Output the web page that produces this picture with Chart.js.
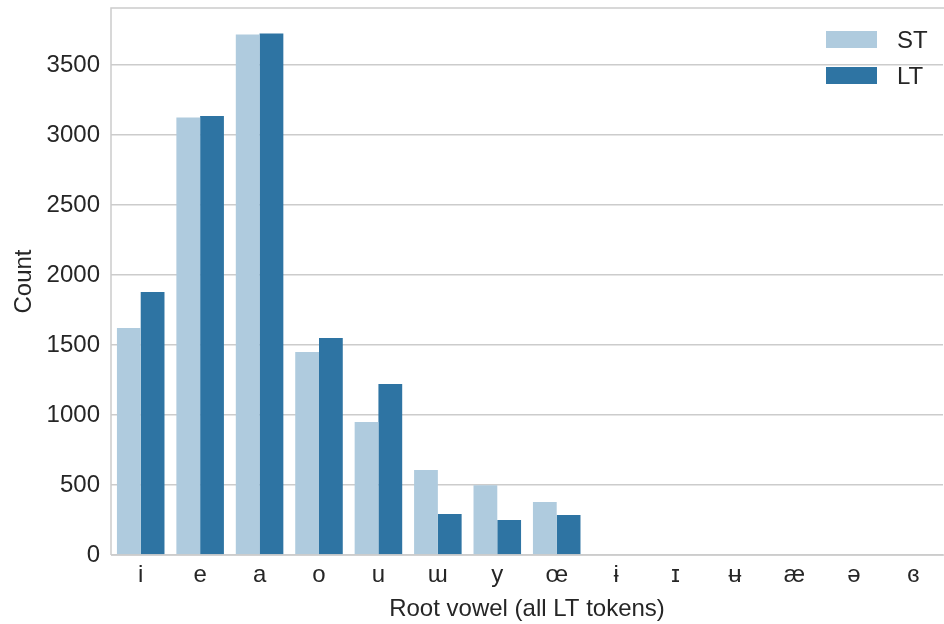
<!DOCTYPE html>
<html>
<head>
<meta charset="utf-8">
<script src="https://cdn.jsdelivr.net/npm/chart.js@4"></script>
<style>
html,body{margin:0;padding:0;background:#fff;}
#wrap{width:944px;height:624px;}
</style>
</head>
<body>
<div id="wrap"><canvas id="c" width="944" height="624"></canvas></div>
<script>
const categories = ["i","e","a","o","u","ɯ","y","œ","ɨ","ɪ","ʉ","æ","ə","ɞ"];
const stValues = [1621,3124,3717,1450,950,607,498,379,0,0,0,0,0,0];
const ltValues = [1879,3136,3724,1550,1221,293,250,286,0,0,0,0,0,0];
const yTicks = [0,500,1000,1500,2000,2500,3000,3500];
const seriesNames = ["ST","LT"];

const FONT = "'Liberation Sans', Arial, sans-serif";
const TXT = "#262626";
const GRID = "#cccccc";

const framePlugin = {
  id: 'frame',
  afterDraw(chart){
    const {ctx, chartArea:a} = chart;
    ctx.save();
    ctx.strokeStyle = GRID;
    ctx.lineWidth = 1.5;
    ctx.beginPath();
    ctx.moveTo(a.left, a.bottom); ctx.lineTo(a.left, a.top);
    ctx.lineTo(a.right+2, a.top);
    ctx.moveTo(a.left, a.bottom); ctx.lineTo(a.right+2, a.bottom);
    ctx.stroke();
    // legend
    ctx.font = "24px " + FONT;
    ctx.textBaseline = "middle";
    ctx.textAlign = "left";
    chart.data.datasets.forEach((ds, i) => {
      const y = 31 + i*36;
      ctx.fillStyle = ds.backgroundColor;
      ctx.fillRect(826, y, 51, 17);
      ctx.fillStyle = TXT;
      ctx.fillText(ds.label, 897, y + 10);
    });
    ctx.restore();
  }
};

new Chart(document.getElementById('c'), {
  type: 'bar',
  data: {
    labels: categories,
    datasets: [
      {label: seriesNames[0], data: stValues, backgroundColor: "#afcbde", categoryPercentage: 0.8, barPercentage: 1.0},
      {label: seriesNames[1], data: ltValues, backgroundColor: "#2e74a3", categoryPercentage: 0.8, barPercentage: 1.0}
    ]
  },
  options: {
    responsive: false,
    animation: false,
    layout: {padding: {top: 8, right: 1, left: 0, bottom: 0}},
    plugins: {legend: {display: false}, tooltip: {enabled: false}},
    scales: {
      x: {
        grid: {display: false},
        border: {display: false},
        ticks: {font: {size: 24, family: FONT}, color: TXT, padding: -2, maxRotation: 0, autoSkip: false},
        title: {display: true, text: "Root vowel (all LT tokens)", font: {size: 24, family: FONT}, color: TXT, padding: {top: 0, bottom: 0}},
        afterFit(s){ s.height = 69; s.paddingLeft = 0; s.paddingRight = 0; }
      },
      y: {
        min: 0, max: 3907,
        afterBuildTicks(s){ s.ticks = yTicks.map(v => ({value: v})); },
        grid: {color: GRID, lineWidth: 1.5, drawTicks: false},
        border: {display: false},
        ticks: {font: {size: 24, family: FONT}, color: TXT, padding: 11, callback: v => String(v)},
        title: {display: true, text: "Count", font: {size: 24, family: FONT}, color: TXT, padding: {top: 10, bottom: 0}},
        afterFit(s){ s.width = 111; s.paddingTop = 0; s.paddingBottom = 0; }
      }
    }
  },
  plugins: [framePlugin]
});
</script>
</body>
</html>
